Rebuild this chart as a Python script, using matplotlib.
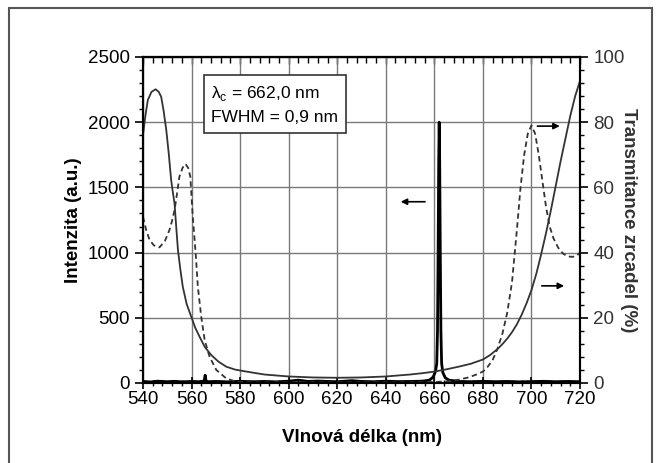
import matplotlib
matplotlib.use("Agg")
import matplotlib.pyplot as plt
from matplotlib.ticker import MultipleLocator
from matplotlib.patches import Rectangle

plt.rcParams['font.family'] = ['Liberation Sans', 'DejaVu Sans']

# Spectrum (left axis, a.u.)
spec_wl = [540, 543, 546, 550, 553, 556, 560, 563, 565.2, 565.6, 566.0, 567, 570, 575, 580, 585, 590,
           595, 600, 604, 608, 612, 620, 626, 630, 635, 640, 645, 650, 655, 658, 659.5, 660.5, 661.0,
           661.3, 661.55, 661.8, 662.0, 662.2, 662.45, 662.7, 663.0, 663.5, 664.5, 666, 670, 675, 680,
           685, 690, 695, 700, 705, 710, 715, 720]
spec_int = [12, 8, 14, 10, 13, 9, 12, 10, 15, 60, 14, 10, 12, 9, 13, 10, 12,
            9, 14, 22, 12, 15, 10, 18, 12, 10, 14, 11, 12, 14, 22, 45, 90, 150,
            400, 1000, 1700, 2000, 1700, 1000, 400, 150, 80, 40, 22, 12, 10, 13,
            10, 12, 9, 11, 13, 10, 12, 10]

# Mirror 1 transmittance (solid, %)
t1_wl = [540, 541, 542, 543.5, 545.2, 546.5, 547.5, 548.5, 549.6, 550.6, 551.6, 552.3, 553, 553.7,
         554.4, 555.4, 556.4, 558, 559.9, 561.5, 563.3, 565.5, 568.1, 571, 574.3, 578, 582.6, 590,
         600, 610, 620, 630, 640, 650, 655, 660, 665, 670, 675, 680, 683, 686, 688, 690, 692, 694,
         696, 698, 700, 702, 704, 706, 708, 710, 712, 714, 716, 718, 720]
t1_val = [76, 82, 86.8, 89.3, 90.1, 89.3, 87.8, 83.5, 77.6, 70.5, 62.3, 58.5, 55.1, 47.8,
          40.8, 34.8, 29.5, 24.2, 20.3, 17, 14.2, 11, 8.6, 6.6, 5.0, 4.1, 3.5, 2.6,
          2.0, 1.7, 1.6, 1.7, 2.0, 2.6, 3.0, 3.5, 4.2, 5.0, 5.9, 7.2, 8.6, 10.4, 11.9, 13.6, 15.6, 18,
          21, 24.5, 28.5, 33.5, 39.5, 46, 53, 60.5, 68, 75, 82, 88, 92.7]

# Mirror 2 transmittance (dashed, %)
t2_wl = [540, 541.3, 542.7, 544.5, 546.8, 549, 550.9, 552, 553, 554, 555, 556.3, 557.5, 558.6, 559.5,
         560.5, 561.7, 562.6, 564, 565.4, 567.4, 570.2, 574.3, 578.4, 585, 600, 620, 640, 650, 660,
         665, 670, 674, 677, 680, 682, 684, 686, 688, 690, 692, 694, 695.5, 697, 698.5, 700, 701.5,
         703, 704.5, 706, 707.5, 709, 711, 713, 715, 717, 718.5, 720]
t2_val = [51, 47, 43.9, 42.2, 41.6, 43.5, 46.9, 49.8, 53, 58, 63.3, 66, 67.2, 66, 63.3,
          51, 39.8, 29.5, 20.3, 13.2, 8.1, 4.0, 1.4, 0.4, 0.2, 0.2, 0.2, 0.2, 0.2, 0.3,
          0.5, 1.0, 1.7, 2.5, 3.5, 5, 7, 10.5, 15, 21.5, 31, 47, 60, 70, 76.5, 79, 76.5,
          70, 62, 54, 48, 44.5, 41.5, 39.7, 38.8, 38.7, 39, 40]

x_ticks = [540, 560, 580, 600, 620, 640, 660, 680, 700, 720]
y1_ticks = [0, 500, 1000, 1500, 2000, 2500]
y2_ticks = [0, 20, 40, 60, 80, 100]

fig = plt.figure(figsize=(6.61, 4.63), dpi=100)
ax1 = fig.add_axes([0.2163, 0.1728, 0.8775 - 0.2163, 0.8769 - 0.1728])
ax2 = ax1.twinx()

ax1.set_xlim(540, 720)
ax1.set_ylim(0, 2500)
ax2.set_ylim(0, 100)
ax1.set_xticks(x_ticks)
ax1.set_yticks(y1_ticks)
ax2.set_yticks(y2_ticks)
ax1.xaxis.set_minor_locator(MultipleLocator(4))
ax1.yaxis.set_minor_locator(MultipleLocator(100))
ax2.yaxis.set_minor_locator(MultipleLocator(4))

ax1.grid(True, which='major', color='#7a7a7a', linewidth=1.0)
ax1.set_axisbelow(True)

ax1.plot(spec_wl, spec_int, color='black', linewidth=2.0, zorder=3)
ax2.plot(t1_wl, t1_val, color='#333333', linewidth=1.3, solid_joinstyle='round')
ax2.plot(t2_wl, t2_val, color='#333333', linewidth=1.3, linestyle=(0, (3, 2)))

for a in (ax1, ax2):
    for s in a.spines.values():
        s.set_linewidth(1.5)

ax1.tick_params(axis='y', which='major', direction='out', length=6, width=1.2, labelsize=13.5)
ax1.tick_params(axis='y', which='minor', direction='out', length=3, width=1.0)
ax1.tick_params(axis='x', which='major', direction='inout', length=8, width=1.2, labelsize=13.5, pad=2)
ax1.tick_params(axis='x', which='minor', direction='inout', length=5, width=1.0)
ax2.tick_params(axis='y', which='major', direction='out', length=6, width=1.2, labelsize=13.5,
                labelcolor='#333333')
ax2.tick_params(axis='y', which='minor', direction='out', length=3, width=1.0)

top = ax1.secondary_xaxis('top')
top.set_xticks(x_ticks)
top.set_xticklabels([])
top.xaxis.set_minor_locator(MultipleLocator(4))
top.tick_params(axis='x', which='major', direction='in', length=5, width=1.0)
top.tick_params(axis='x', which='minor', direction='in', length=4, width=1.0)
top.spines['top'].set_linewidth(1.5)

ax1.set_xlabel('Vlnová délka (nm)', fontsize=13.5, fontweight='bold')
ax1.set_ylabel('Intenzita (a.u.)', fontsize=13.5, fontweight='bold')
ax2.set_ylabel('Transmitance zrcadel (%)', fontsize=13.5, fontweight='bold', rotation=-90,
               color='#333333', va='center', ha='center')
ax1.xaxis.set_label_coords(0.5, -0.14)
ax1.yaxis.set_label_coords(-0.14, 0.5)
ax2.yaxis.set_label_coords(1.11, 0.5)

ax2.text(568.2, 91.6, 'λ$_\\mathregular{c}$ = 662,0 nm\nFWHM = 0,9 nm', fontsize=12.5,
         va='top', ha='left', linespacing=1.55,
         bbox=dict(boxstyle='square,pad=0.45', facecolor='white', edgecolor='#333333', linewidth=1.2),
         zorder=10)

arrow = dict(arrowstyle='-|>', color='black', linewidth=1.2, mutation_scale=9)
ax2.annotate('', xy=(645, 55.6), xytext=(657.3, 55.6), arrowprops=arrow)
ax2.annotate('', xy=(712.8, 78.8), xytext=(701.3, 78.8), arrowprops=arrow)
ax2.annotate('', xy=(714.6, 29.8), xytext=(703.1, 29.8), arrowprops=arrow)

fig.patches.append(Rectangle((9 / 661, -0.05), (652 - 9) / 661, 1.05 - 8 / 463,
                             transform=fig.transFigure, fill=False, edgecolor='#555555',
                             linewidth=1.5))

fig.savefig('out.png', dpi=100)
